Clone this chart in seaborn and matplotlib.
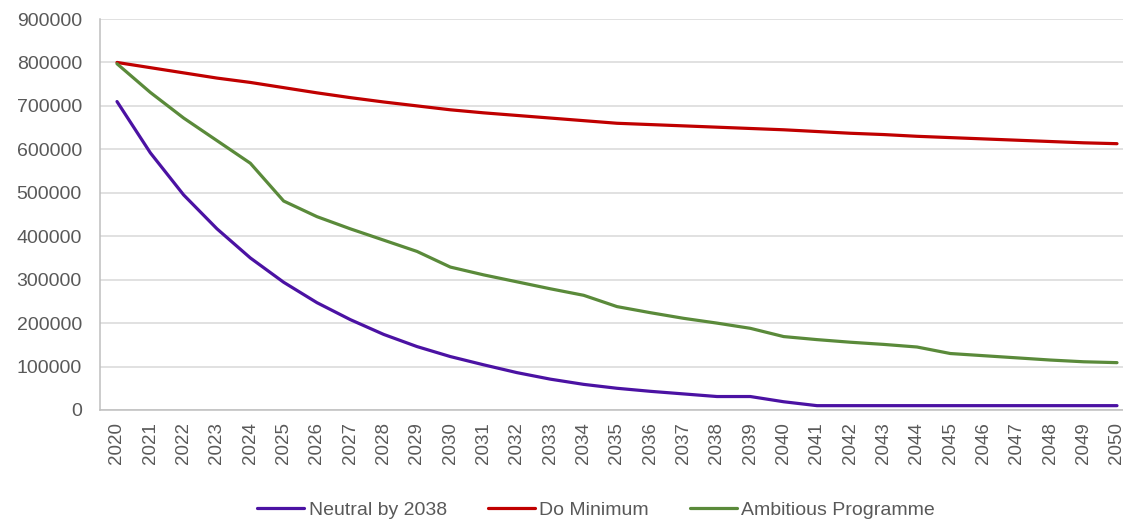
import pandas as pd
import matplotlib
matplotlib.use("Agg")
import matplotlib.pyplot as plt
import seaborn as sns

years = list(range(2020, 2051))

neutral_2038 = [710000, 592000, 495000, 417000, 350000, 294000, 247000, 208000, 174000, 146000,
                123000, 104000, 86000, 71000, 59000, 50000, 43000, 37000, 31000, 31000,
                19000, 10000, 10000, 10000, 10000, 10000, 10000, 10000, 10000, 10000, 10000]

do_minimum = [800000, 788000, 776000, 764000, 754000, 742000, 730000, 719000, 709000, 700000,
              691000, 684000, 678000, 672000, 666000, 660000, 657000, 654000, 651000, 648000,
              645000, 641000, 637000, 634000, 630000, 627000, 624000, 621000, 618000, 615000, 613000]

ambitious = [797000, 731000, 672000, 620000, 568000, 481000, 445000, 417000, 391000, 365000,
             329000, 311000, 295000, 279000, 264000, 238000, 224000, 211000, 200000, 188000,
             169000, 162000, 156000, 151000, 145000, 130000, 125000, 120000, 115000, 111000, 109000]

series_names = ["Neutral by 2038", "Do Minimum", "Ambitious Programme"]
colors = ["#4B12A3", "#C00000", "#5A8A3A"]

df = pd.DataFrame({
    "Year": years * 3,
    "Value": neutral_2038 + do_minimum + ambitious,
    "Scenario": [series_names[0]] * len(years) + [series_names[1]] * len(years) + [series_names[2]] * len(years),
})

sns.set_theme(style="white")
plt.rcParams["font.family"] = ["Liberation Sans", "DejaVu Sans"]

fig = plt.figure(figsize=(11.23, 5.21), dpi=100)
ax = fig.add_axes([100 / 1123, 1 - 410 / 521, 1 - 100 / 1123, (410 - 19) / 521])

sns.lineplot(data=df, x="Year", y="Value", hue="Scenario", hue_order=series_names,
             palette=colors, linewidth=2.3, ax=ax, legend=False)

ax.set_xlim(2019.49, 2050.18)
ax.set_ylim(0, 900000)
ax.set_yticks(range(0, 900001, 100000))
ax.set_yticklabels([str(v) for v in range(0, 900001, 100000)])
ax.set_xticks(years)
ax.set_xticklabels([str(y) for y in years], rotation=90)
ax.set_xlabel("")
ax.set_ylabel("")

ax.yaxis.grid(True, color="#D9D9D9", linewidth=1.1)
ax.set_axisbelow(True)
for side in ["top", "right"]:
    ax.spines[side].set_visible(False)
for side in ["left", "bottom"]:
    ax.spines[side].set_color("#BFBFBF")
    ax.spines[side].set_linewidth(1.1)

ax.tick_params(axis="y", length=0, pad=13, labelsize=14, labelcolor="#595959")
ax.tick_params(axis="x", length=0, pad=9, labelsize=13.5, labelcolor="#595959")

handles = [plt.Line2D([], [], color=c, linewidth=2.3) for c in colors]
fig.legend(handles, series_names, loc="center", bbox_to_anchor=(0.531, 1 - 510 / 521),
           ncol=3, frameon=False, fontsize=14, labelcolor="#595959",
           handlelength=2.4, handletextpad=0.25, columnspacing=2.1)

fig.savefig("out.png", dpi=100)
